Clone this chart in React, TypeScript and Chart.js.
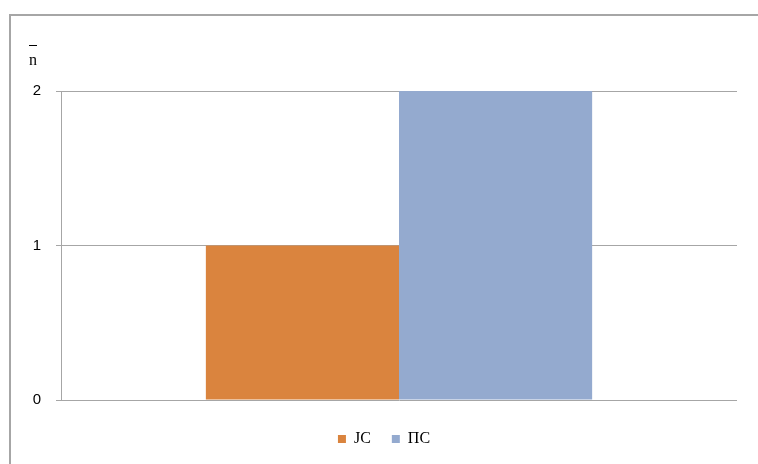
import React, { useEffect, useRef } from "react";
import { Chart, registerables } from "chart.js";

Chart.register(...registerables);

const categories: string[] = [""];
const seriesNames: string[] = ["JC", "ПС"];
const jcValues: number[] = [1];
const psValues: number[] = [2];
const yTicks: number[] = [0, 1, 2];
const yAxisLabel = "n";

const overTitle = {
  id: "overTitle",
  afterDraw(chart: any) {
    const ctx = chart.ctx;
    ctx.save();
    ctx.fillStyle = "#000";
    ctx.font = "16px 'Liberation Serif', serif";
    ctx.textAlign = "left";
    ctx.textBaseline = "alphabetic";
    ctx.fillText(yAxisLabel, 29, 65);
    ctx.strokeStyle = "#000";
    ctx.lineWidth = 1;
    ctx.beginPath();
    ctx.moveTo(29, 45.5);
    ctx.lineTo(37, 45.5);
    ctx.stroke();
    ctx.restore();
  },
};

export default function App() {
  const ref = useRef<HTMLCanvasElement | null>(null);
  useEffect(() => {
    document.body.style.margin = "0";
    const chart = new Chart(ref.current!, {
      type: "bar",
      data: {
        labels: categories,
        datasets: [
          {
            label: seriesNames[0],
            data: jcValues,
            backgroundColor: "#DA843E",
            borderWidth: 0,
          },
          {
            label: seriesNames[1],
            data: psValues,
            backgroundColor: "#94AACF",
            borderWidth: 0,
          },
        ],
      },
      options: {
        animation: false,
        responsive: false,
        maintainAspectRatio: false,
        layout: { padding: { left: 31, right: 21, top: 91, bottom: 7 } },
        datasets: { bar: { barPercentage: 1, categoryPercentage: 2 / 3.5 } },
        scales: {
          x: {
            display: true,
            ticks: { display: false },
            grid: { display: false },
            border: { display: false },
            afterFit: (s: any) => {
              s.height = 10;
            },
          },
          y: {
            min: 0,
            max: 2,
            afterFit: (s: any) => {
              s.width = 30;
            },
            afterBuildTicks: (s: any) => {
              s.ticks = yTicks.map((v) => ({ value: v }));
            },
            ticks: {
              padding: 15,
              color: "#000",
              font: { family: "'Liberation Sans', Arial, sans-serif", size: 15 },
            },
            grid: { color: "#A6A6A6", tickLength: 5, lineWidth: 1 },
            border: { display: true, color: "#A6A6A6", width: 1 },
          },
        },
        plugins: {
          legend: {
            position: "bottom",
            labels: {
              boxWidth: 8,
              boxHeight: 8,
              color: "#000",
              padding: 21,
              font: { family: "'Liberation Serif', 'Times New Roman', serif", size: 16 },
            },
          },
          tooltip: { enabled: false },
        },
      },
      plugins: [overTitle],
    });
    return () => chart.destroy();
  }, []);
  return (
    <div style={{ position: "fixed", left: 0, top: 0, width: 758, height: 464, background: "#fff" }}>
      <canvas ref={ref} width={758} height={464} style={{ position: "absolute", left: 0, top: 0 }} />
      <div
        style={{
          position: "absolute",
          left: 9,
          top: 14,
          width: 760,
          height: 460,
          borderLeft: "2px solid #A6A6A6",
          borderTop: "2px solid #A6A6A6",
          pointerEvents: "none",
        }}
      />
    </div>
  );
}
